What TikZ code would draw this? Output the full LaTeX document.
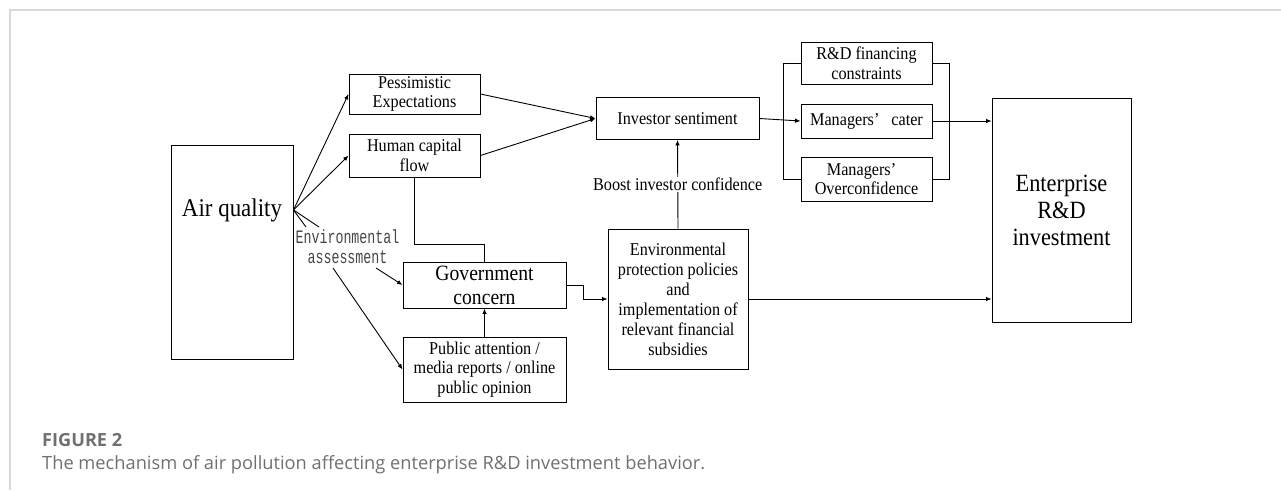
\documentclass[tikz,border=0pt]{standalone}
\usepackage{fontspec}
\setmainfont{Liberation Serif}[FakeStretch=0.9]
\newfontfamily\capfont{Open Sans}
\newfontfamily\envmono{Liberation Mono}[FakeStretch=0.7]
\usetikzlibrary{arrows.meta,calc}
\definecolor{framegray}{RGB}{217,217,217}
\definecolor{capgray}{RGB}{112,112,114}
\definecolor{labgray}{RGB}{70,70,70}
\begin{document}
\begin{tikzpicture}[x=1pt,y=-1pt,
  box/.style={draw, line width=0.9pt, inner sep=0pt, align=center,
              font=\fontsize{18}{19.5}\selectfont},
  conn/.style={line width=0.9pt},
  arr/.style={conn, -{Latex[length=5.5pt,width=4.5pt]}},
]
\useasboundingbox (0,0) rectangle (1281,490);
\draw[framegray, line width=1.2pt] (10,490) -- (10,10) -- (1281,10);

% boxes
\node[box, minimum width=122pt, minimum height=214pt] (aq) at (232,252) {};
\node[font=\fontsize{25.5}{27}\selectfont, inner sep=0pt] (aqt) at (232,210) {Air quality};
\node[box, minimum width=131pt, minimum height=40pt] (pess) at (414.5,94) {Pessimistic\\Expectations};
\node[box, minimum width=131pt, minimum height=43pt] (hc) at (414.5,155.5) {Human capital\\flow};
\node[box, minimum width=163pt, minimum height=42pt] (inv) at (677.5,118.5) {Investor sentiment};
\node[box, minimum width=131pt, minimum height=42pt] (rd) at (866.5,63) {R\&D financing\\constraints};
\node[box, minimum width=131pt, minimum height=34pt] (cater) at (866.5,121) {Managers’\kern12pt cater};
\node[box, minimum width=131pt, minimum height=44pt] (over) at (866.5,179) {Managers’\kern10pt\\Overconfidence};
\node[box, minimum width=139pt, minimum height=224pt, font=\fontsize{24.8}{27}\selectfont] (ent) at (1061.5,210) {Enterprise\\R\&D\\investment};
\node[box, minimum width=140pt, minimum height=140pt, font=\fontsize{18}{20}\selectfont] (env) at (678,299) {Environmental\\protection policies\\and\\implementation of\\relevant financial\\subsidies};
\node[box, minimum width=163pt, minimum height=46pt, font=\fontsize{21.8}{24}\selectfont] (gov) at (484.5,285) {Government\\concern};
\node[box, minimum width=163pt, minimum height=65pt] (pub) at (484.5,369.5) {Public attention /\\media reports / online\\public opinion};

% air quality fan
\coordinate (o) at (aq.east |- aqt);
\draw[arr] (o) -- (pess.west);
\draw[arr] (o) -- (hc.west);
\node[font=\envmono\fontsize{19}{20}\selectfont, text=labgray, align=center, inner sep=0pt] (ea) at (347.5,247) {Environmental\\assessment};
\coordinate (s1) at (306,227);
\coordinate (s2) at (319,227);
\draw[conn] (o) -- (s1);
\draw[conn] (o) -- (s2);
\coordinate (g1) at (376,268);
\coordinate (p1) at (333,268);
\draw[arr] (g1) -- (gov.west);
\draw[arr] (p1) -- (pub.west);

% to investor sentiment
\draw[arr] (pess.east) -- (inv.west);
\draw[arr] (hc.east) -- (inv.west);
\draw[arr] (env.north) -- (inv.south)
  node[midway, fill=white, inner sep=1pt, font=\fontsize{18}{19.5}\selectfont] (boost) {Boost investor confidence};

% government
\draw[conn] (hc.south) -- ++(0,67) -| (gov.north);
\draw[arr] (pub.north) -- (gov.south);
\draw[arr] (gov.east) -- ++(17,0) |- (env.west);

% channels
\draw[arr] (inv.east) -- (cater.west);
\draw[conn] (rd.west) -- ++(-17,0) |- (over.west);
\draw[conn] (rd.east) -- ++(17,0) |- (over.east);
\draw[arr] (cater.east) -- (cater.east -| ent.west);
\draw[arr] (env.east) -- (env.east -| ent.west);

% caption
\node[anchor=west, text=capgray, inner sep=0pt] (fig) at (42,440) {\resizebox{80pt}{!}{\capfont\bfseries FIGURE 2}};
\node[anchor=west, text=capgray, inner sep=0pt] (cap) at (42,465) {\resizebox{663pt}{!}{\capfont The mechanism of air pollution affecting enterprise R\&D investment behavior.}};
\end{tikzpicture}
\end{document}
